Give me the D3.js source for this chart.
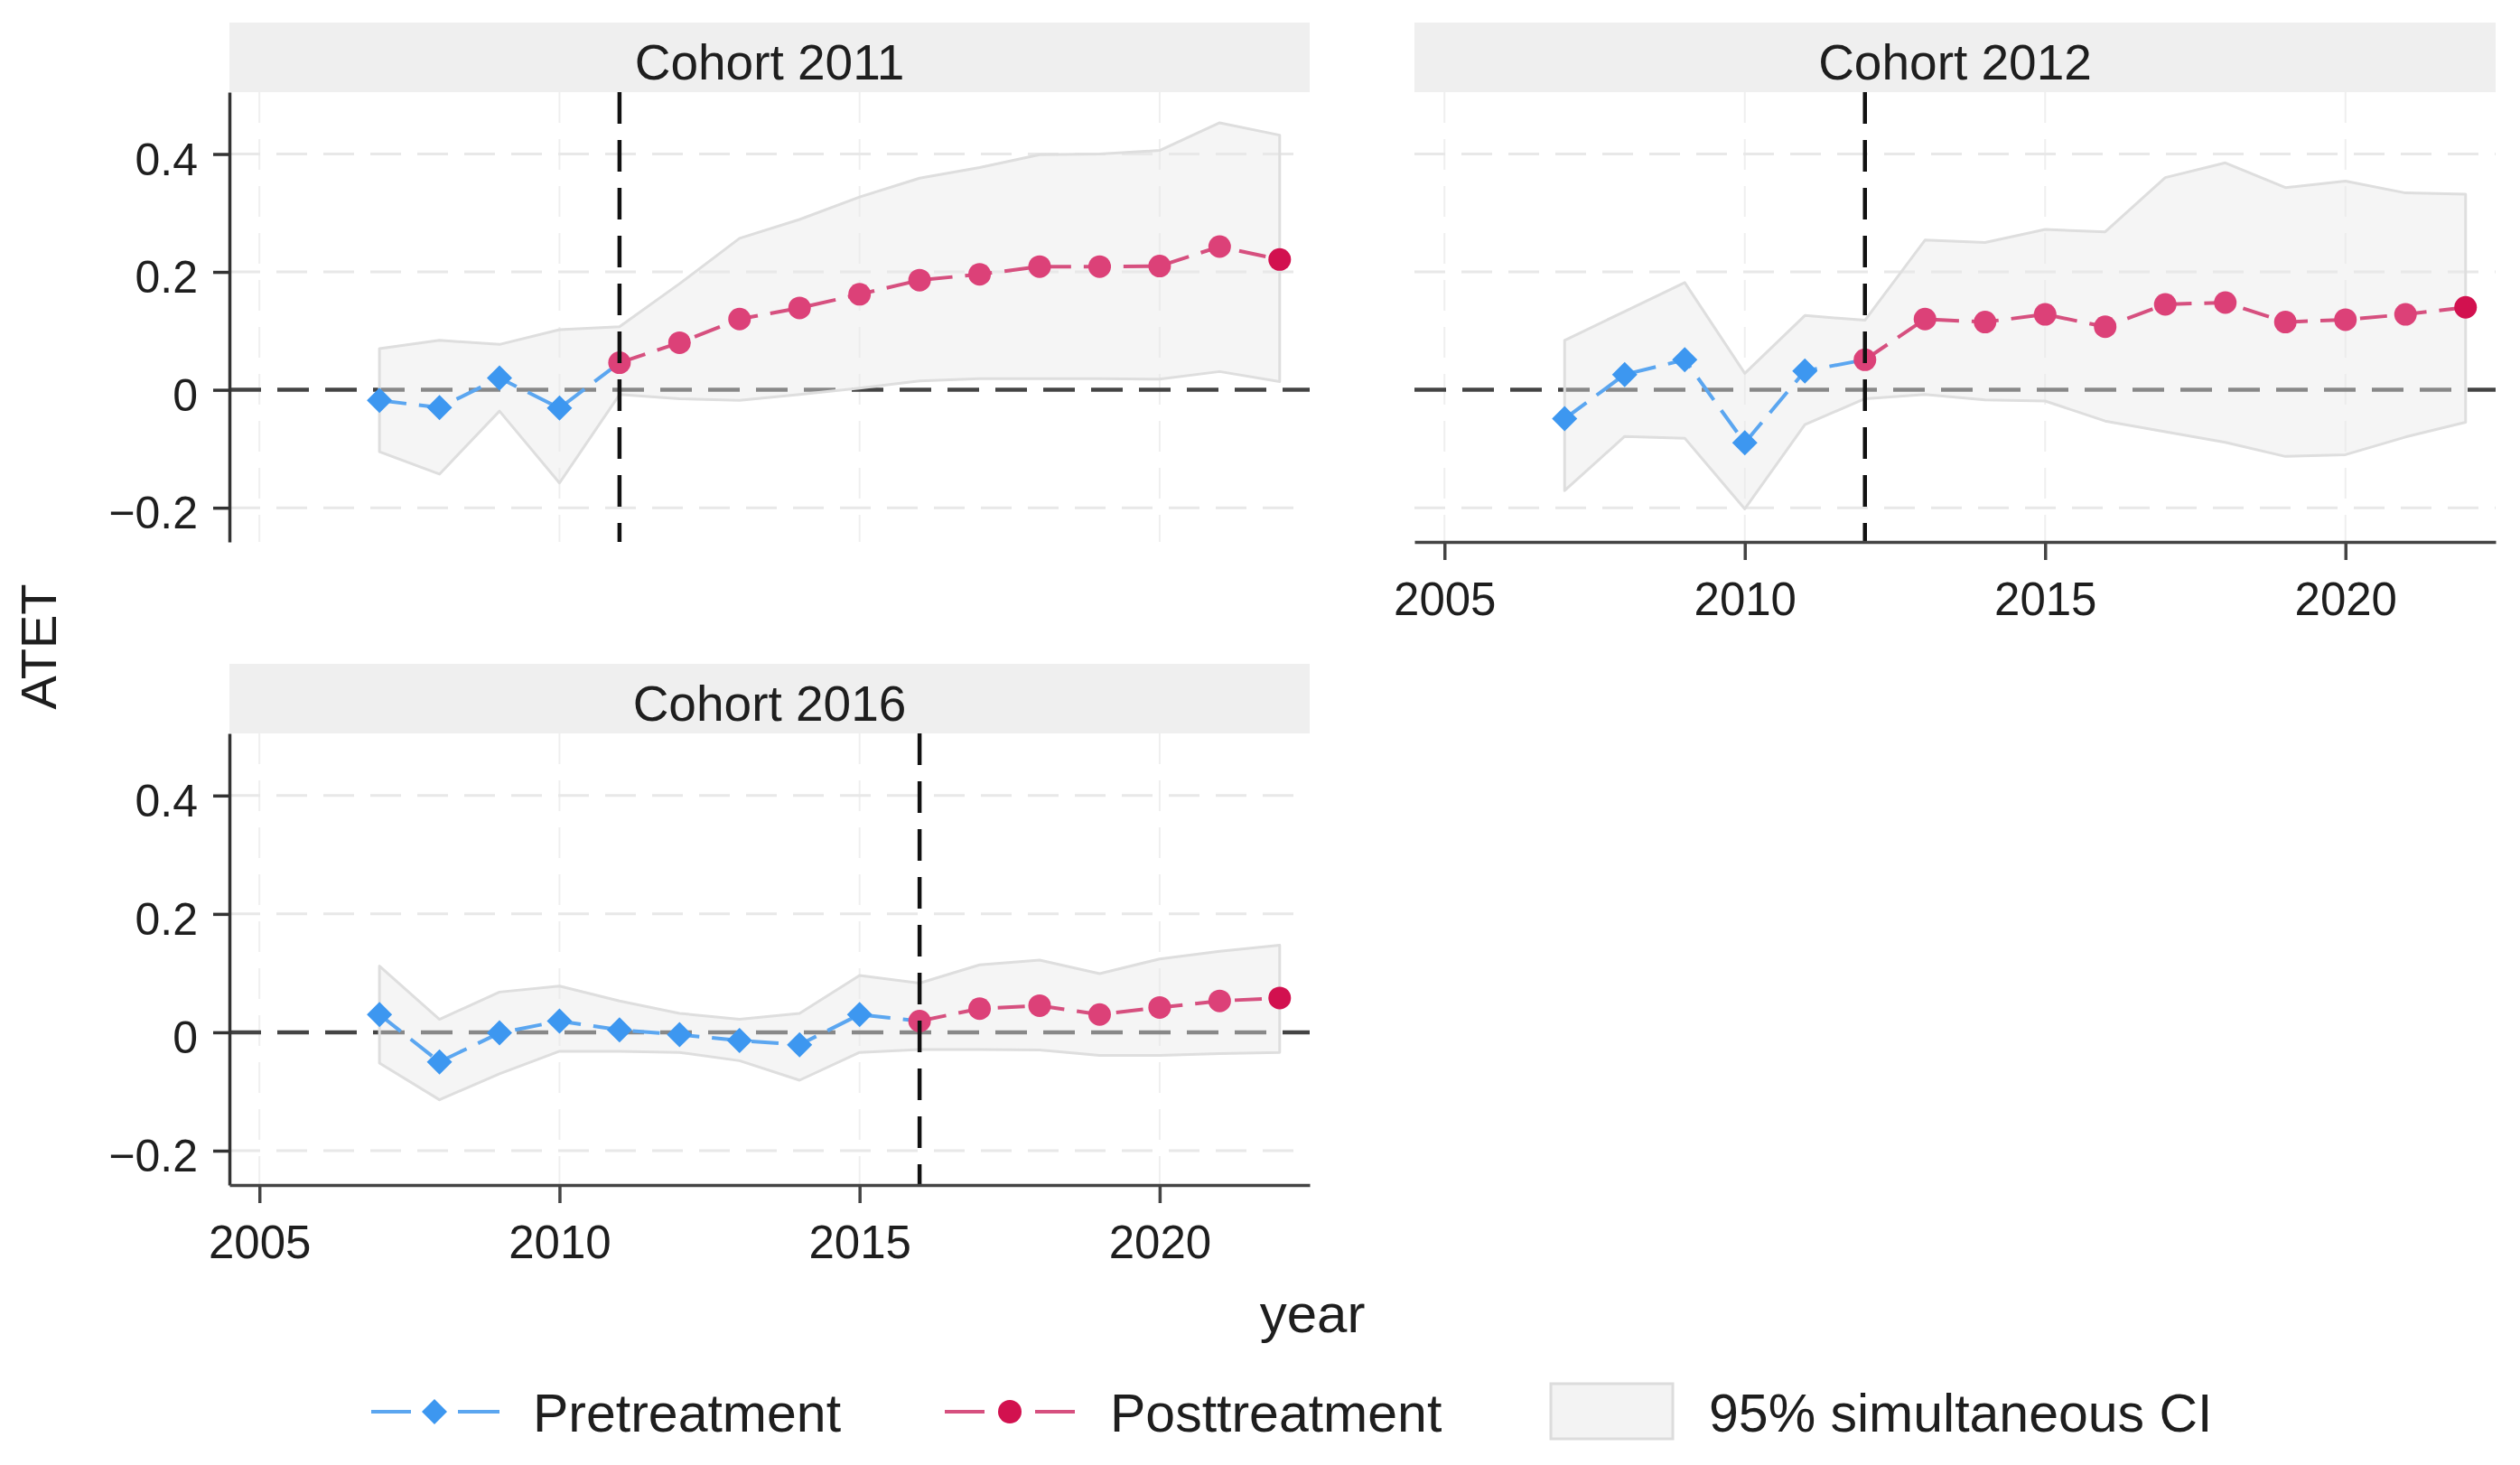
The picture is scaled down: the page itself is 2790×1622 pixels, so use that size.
<!DOCTYPE html>
<html>
<head>
<meta charset="utf-8">
<script src="https://cdn.jsdelivr.net/npm/d3@7"></script>
<style>
  body { margin: 0; background: #ffffff; }
  text { font-family: "Liberation Sans", Arial, Helvetica, sans-serif; fill: #1e1e1e; }
</style>
</head>
<body>
<svg id="chart" width="2790" height="1622"></svg>
<script>
// ---------------- data ----------------
const years = [2007, 2008, 2009, 2010, 2011, 2012, 2013, 2014, 2015, 2016, 2017, 2018, 2019, 2020, 2021, 2022];
const cohortLabels = ["Cohort 2011", "Cohort 2012", "Cohort 2016"];
const treatYears = [2011, 2012, 2016];

const atet2011  = [-0.018, -0.030, 0.020, -0.031, 0.046, 0.080, 0.120, 0.139, 0.162, 0.186, 0.196, 0.209, 0.209, 0.210, 0.243, 0.221];
const lower2011 = [-0.105, -0.143, -0.036, -0.158, -0.008, -0.015, -0.018, -0.008, 0.003, 0.015, 0.019, 0.019, 0.019, 0.018, 0.031, 0.014];
const upper2011 = [0.070, 0.084, 0.077, 0.102, 0.107, 0.180, 0.257, 0.289, 0.327, 0.359, 0.377, 0.399, 0.400, 0.406, 0.453, 0.432];

const atet2012  = [-0.049, 0.026, 0.051, -0.090, 0.032, 0.051, 0.120, 0.115, 0.128, 0.107, 0.145, 0.148, 0.115, 0.119, 0.128, 0.140];
const lower2012 = [-0.171, -0.079, -0.082, -0.202, -0.059, -0.015, -0.008, -0.017, -0.019, -0.053, -0.071, -0.089, -0.113, -0.110, -0.080, -0.055];
const upper2012 = [0.084, 0.133, 0.182, 0.028, 0.126, 0.118, 0.254, 0.250, 0.272, 0.268, 0.360, 0.385, 0.343, 0.354, 0.334, 0.332];

const atet2016  = [0.030, -0.050, -0.001, 0.019, 0.004, -0.004, -0.014, -0.021, 0.030, 0.019, 0.040, 0.045, 0.030, 0.042, 0.053, 0.058];
const lower2016 = [-0.052, -0.114, -0.070, -0.032, -0.032, -0.034, -0.048, -0.081, -0.034, -0.029, -0.029, -0.030, -0.039, -0.039, -0.036, -0.034];
const upper2016 = [0.112, 0.022, 0.068, 0.078, 0.053, 0.032, 0.022, 0.032, 0.096, 0.083, 0.114, 0.122, 0.099, 0.124, 0.137, 0.147];

const xTicks = [2005, 2010, 2015, 2020];
const yTicks = [-0.2, 0, 0.2, 0.4];
const yTickLabels = ["\u22120.2", "0", "0.2", "0.4"];
const legendLabels = ["Pretreatment", "Posttreatment", "95% simultaneous CI"];
const xTitle = "year";
const yTitle = "ATET";

// ---------------- layout ----------------
const estimates = [atet2011, atet2012, atet2016];
const lowers = [lower2011, lower2012, lower2016];
const uppers = [upper2011, upper2012, upper2016];

const panelPos = [
  { x0: 254,  x1: 1450, y0: 102, y1: 600,  yAxis: true,  xAxis: false },
  { x0: 1566, x1: 2763, y0: 102, y1: 600,  yAxis: false, xAxis: true  },
  { x0: 254,  x1: 1450, y0: 812, y1: 1312, yAxis: true,  xAxis: true  }
];

const C = {
  preLine: "#5ba6f0", preMark: "#3d97f0",
  postLine: "#d6507f", postMark: "#dc4178", postLast: "#d2114f",
  ciFill: "#e6e6e6", ciStroke: "#dedede",
  grid: "#e8e8e8", vgrid: "#efefef", zero: "#444444", treat: "#111111",
  strip: "#efefef", axis: "#333333"
};

const svg = d3.select("#chart");
svg.append("rect").attr("width", 2790).attr("height", 1622).attr("fill", "#fff");

const diamond = (r) => `M0,${-r}L${r},0L0,${r}L${-r},0Z`;

panelPos.forEach((p, i) => {
  const x = d3.scaleLinear().domain([2004.5, 2022.5]).range([p.x0, p.x1]);
  const y = d3.scaleLinear().domain([-0.258, 0.505]).range([p.y1, p.y0]);
  const g = svg.append("g");
  const T = treatYears[i];
  const rows = years.map((yr, k) => ({ yr, est: estimates[i][k], lo: lowers[i][k], hi: uppers[i][k] }));

  // strip
  g.append("rect").attr("x", p.x0).attr("y", p.y0 - 77).attr("width", p.x1 - p.x0).attr("height", 77)
    .attr("fill", C.strip);
  g.append("text").attr("x", (p.x0 + p.x1) / 2).attr("y", p.y0 - 14).attr("text-anchor", "middle")
    .attr("font-size", 55).text(cohortLabels[i]);

  // gridlines
  g.selectAll(".vg").data(xTicks).enter().append("line")
    .attr("x1", d => x(d)).attr("x2", d => x(d)).attr("y1", p.y0).attr("y2", p.y1)
    .attr("stroke", C.vgrid).attr("stroke-width", 2).attr("stroke-dasharray", "34,18");
  g.selectAll(".hg").data(yTicks.filter(d => d !== 0)).enter().append("line")
    .attr("x1", p.x0).attr("x2", p.x1).attr("y1", d => y(d)).attr("y2", d => y(d))
    .attr("stroke", C.grid).attr("stroke-width", 3).attr("stroke-dasharray", "34,18");

  // zero line (under the CI band)
  g.append("line").attr("x1", p.x0).attr("x2", p.x1).attr("y1", y(0)).attr("y2", y(0))
    .attr("stroke", C.zero).attr("stroke-width", 4.5).attr("stroke-dasharray", "35,18");

  // CI band
  const area = d3.area().x(d => x(d.yr)).y0(d => y(d.lo)).y1(d => y(d.hi));
  g.append("path").datum(rows).attr("d", area)
    .attr("fill", C.ciFill).attr("fill-opacity", 0.42)
    .attr("stroke", C.ciStroke).attr("stroke-width", 3).attr("stroke-linejoin", "round");

  // lines
  const line = d3.line().x(d => x(d.yr)).y(d => y(d.est));
  const pre = rows.filter(d => d.yr <= T);
  const post = rows.filter(d => d.yr >= T);
  g.append("path").datum(pre).attr("d", line).attr("fill", "none")
    .attr("stroke", C.preLine).attr("stroke-width", 4).attr("stroke-dasharray", "30,14");
  g.append("path").datum(post).attr("d", line).attr("fill", "none")
    .attr("stroke", C.postLine).attr("stroke-width", 4).attr("stroke-dasharray", "30,14");

  // markers
  g.selectAll(".pm").data(rows.filter(d => d.yr < T)).enter().append("path")
    .attr("d", diamond(14)).attr("transform", d => `translate(${x(d.yr)},${y(d.est)})`)
    .attr("fill", C.preMark);
  g.selectAll(".qm").data(post).enter().append("circle")
    .attr("cx", d => x(d.yr)).attr("cy", d => y(d.est)).attr("r", 12.5)
    .attr("fill", (d, k) => k === post.length - 1 ? C.postLast : C.postMark);

  // treatment line
  g.append("line").attr("x1", x(T)).attr("x2", x(T)).attr("y1", p.y0).attr("y2", p.y1)
    .attr("stroke", C.treat).attr("stroke-width", 4.5).attr("stroke-dasharray", "35,18");

  // axes
  if (p.yAxis) {
    const ay = g.append("g").attr("transform", `translate(${p.x0},0)`)
      .call(d3.axisLeft(y).tickValues(yTicks).tickFormat((d, k) => yTickLabels[k])
        .tickSize(18).tickSizeOuter(0).tickPadding(17));
    ay.select(".domain").attr("stroke", C.axis).attr("stroke-width", 3.5);
    ay.selectAll(".tick line").attr("stroke", C.axis).attr("stroke-width", 3.5);
    ay.selectAll(".tick text").attr("font-size", 50).attr("dy", "0.45em")
      .attr("font-family", "Liberation Sans, Arial, sans-serif").attr("fill", "#1e1e1e");
  }
  if (p.xAxis) {
    const ax = g.append("g").attr("transform", `translate(0,${p.y1})`)
      .call(d3.axisBottom(x).tickValues(xTicks).tickFormat(d3.format("d"))
        .tickSize(20).tickSizeOuter(0).tickPadding(25));
    ax.select(".domain").attr("stroke", "#444").attr("stroke-width", 3.5);
    ax.selectAll(".tick line").attr("stroke", "#444").attr("stroke-width", 3.5);
    ax.selectAll(".tick text").attr("font-size", 51)
      .attr("font-family", "Liberation Sans, Arial, sans-serif").attr("fill", "#1e1e1e");
  }
});

// axis titles
svg.append("text").attr("transform", "translate(62,716) rotate(-90)").attr("text-anchor", "middle")
  .attr("font-size", 56).text(yTitle);
svg.append("text").attr("x", 1453).attr("y", 1475).attr("text-anchor", "middle")
  .attr("font-size", 60).text(xTitle);

// legend
const lg = svg.append("g");
const ly = 1563;
// pretreatment
lg.append("line").attr("x1", 411).attr("x2", 455).attr("y1", ly).attr("y2", ly).attr("stroke", C.preLine).attr("stroke-width", 4);
lg.append("line").attr("x1", 507).attr("x2", 553).attr("y1", ly).attr("y2", ly).attr("stroke", C.preLine).attr("stroke-width", 4);
lg.append("path").attr("d", diamond(14)).attr("transform", `translate(481,${ly})`).attr("fill", C.preMark);
lg.append("text").attr("x", 590).attr("y", 1585).attr("font-size", 59).text(legendLabels[0]);
// posttreatment
lg.append("line").attr("x1", 1046).attr("x2", 1090).attr("y1", ly).attr("y2", ly).attr("stroke", C.postLine).attr("stroke-width", 4);
lg.append("line").attr("x1", 1146).attr("x2", 1190).attr("y1", ly).attr("y2", ly).attr("stroke", C.postLine).attr("stroke-width", 4);
lg.append("circle").attr("cx", 1118).attr("cy", ly).attr("r", 13).attr("fill", C.postLast);
lg.append("text").attr("x", 1229).attr("y", 1585).attr("font-size", 59).text(legendLabels[1]);
// CI
lg.append("rect").attr("x", 1717).attr("y", 1532).attr("width", 135).attr("height", 61)
  .attr("fill", "#f3f3f3").attr("stroke", "#dcdcdc").attr("stroke-width", 3);
lg.append("text").attr("x", 1892).attr("y", 1585).attr("font-size", 59).text(legendLabels[2]);
</script>
</body>
</html>
